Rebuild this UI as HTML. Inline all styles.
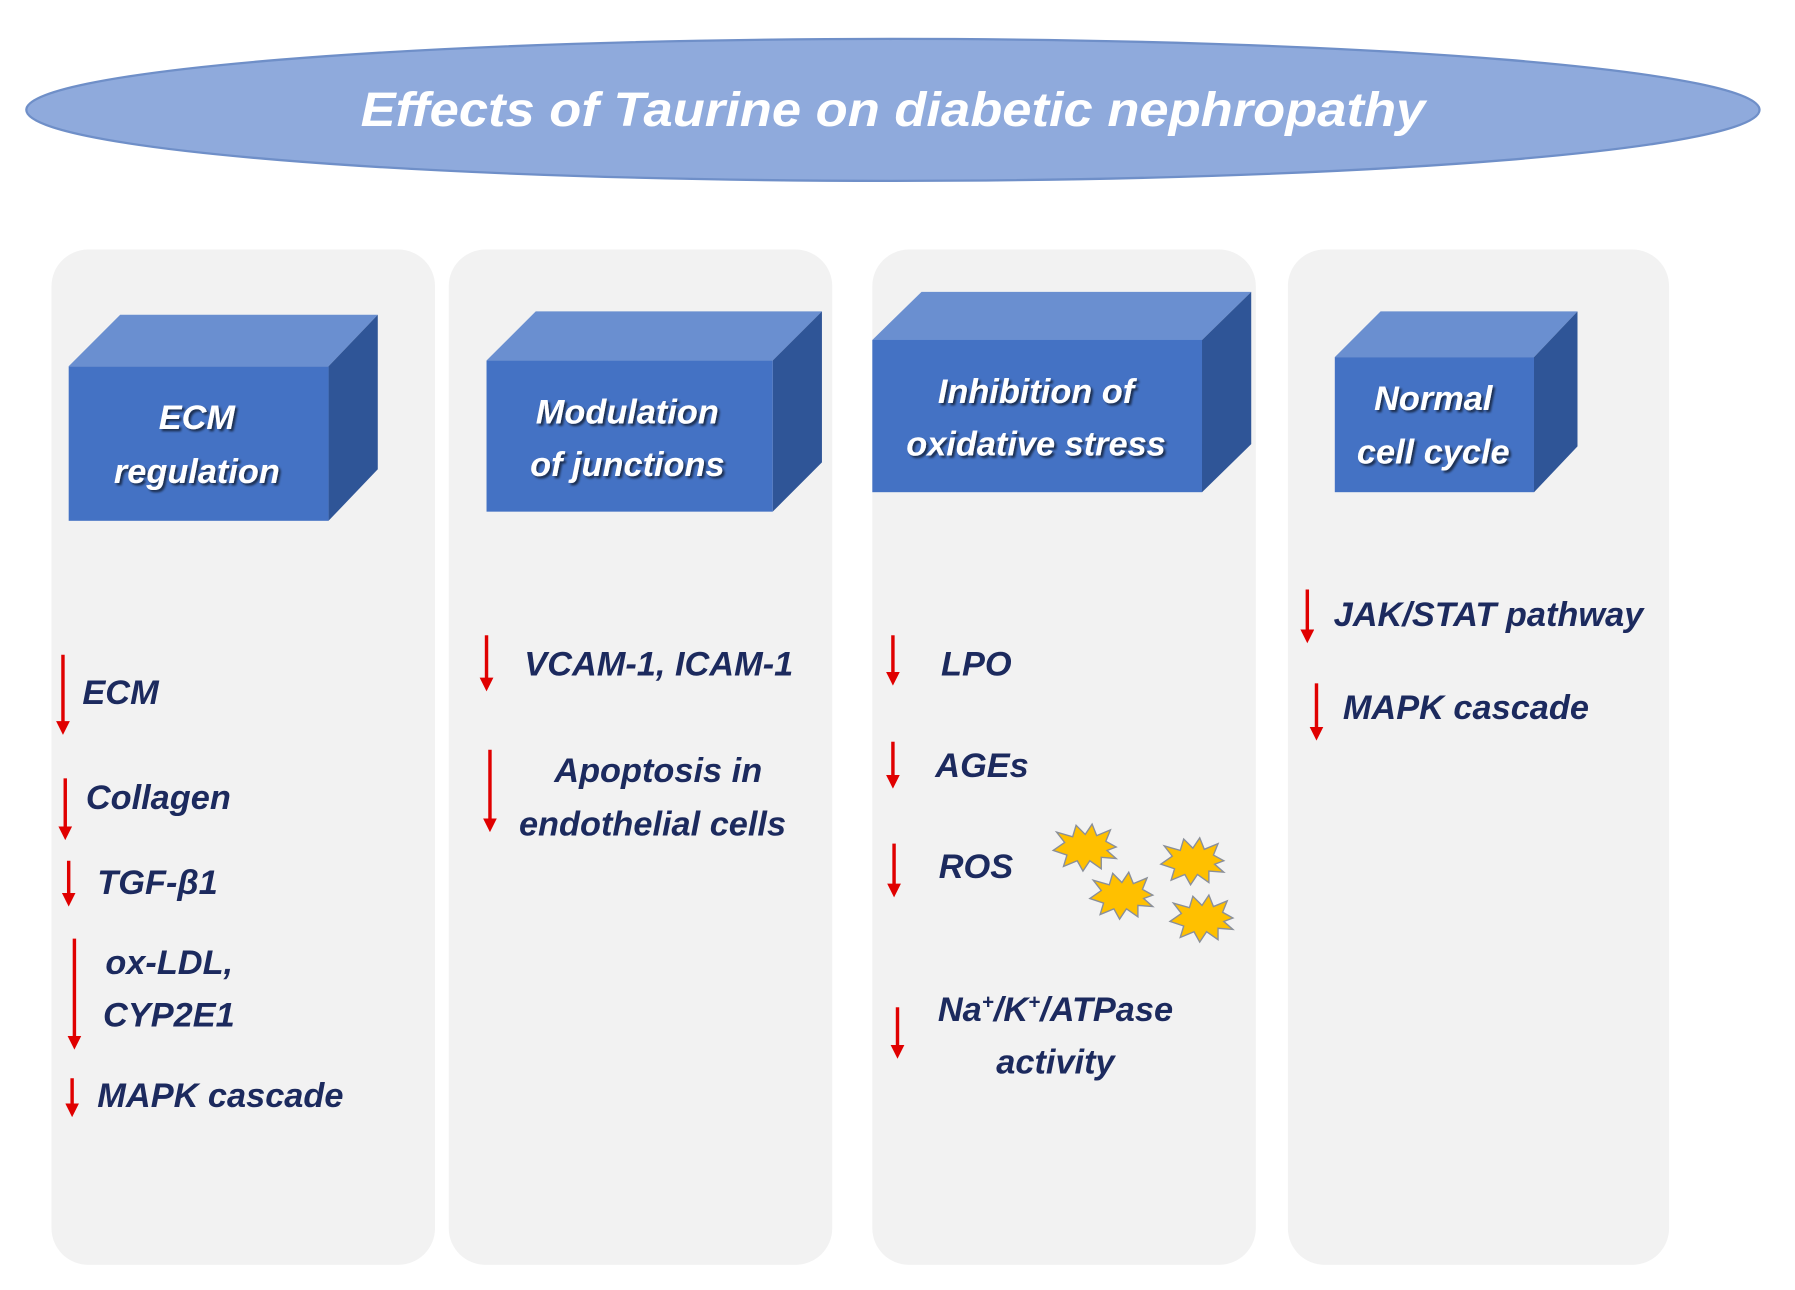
<!DOCTYPE html>
<html><head><meta charset="utf-8"><style>
html,body{margin:0;padding:0;background:#fff;}
svg{display:block;}
.t{font-family:"Liberation Sans",sans-serif;font-weight:bold;font-style:italic;fill:#1c2a5e;font-size:30px;}
.w{font-family:"Liberation Sans",sans-serif;font-weight:bold;font-style:italic;fill:#fff;font-size:30px;text-anchor:middle;}
</style></head><body>
<svg width="1795" height="1290" viewBox="0 0 1568 1127" preserveAspectRatio="none" xmlns="http://www.w3.org/2000/svg">
<defs>
<filter id="sh" x="-10%" y="-10%" width="120%" height="130%"><feDropShadow dx="2" dy="2" stdDeviation="1" flood-color="#000" flood-opacity="0.6"/></filter>
<marker id="ah" markerWidth="4" markerHeight="4" refX="2" refY="2" orient="auto"><path d="M0,0 L4,2 L0,4 z" fill="#e00000"/></marker>
<polygon id="star" points="27,0 18,-5 22,-15 10,-10 6,-20 0,-11 -8,-19 -11,-9 -25,-13 -18,-4 -28,3 -16,7 -19,17 -7,12 -2,21 4,12 14,19 14,9 27,10 19,3" fill="#ffc000" stroke="#8a8f99" stroke-width="1.2"/>
</defs>
<ellipse cx="780" cy="96" rx="757" ry="62" fill="#8faadc" stroke="#6f8fc8" stroke-width="2"/>
<text x="780" y="110" class="w" style="font-size:42px" textLength="930" lengthAdjust="spacingAndGlyphs">Effects of Taurine on diabetic nephropathy</text>

<rect x="45" y="218" width="335" height="887" rx="32" fill="#f2f2f2"/>
<rect x="392" y="218" width="335" height="887" rx="32" fill="#f2f2f2"/>
<rect x="762" y="218" width="335" height="887" rx="32" fill="#f2f2f2"/>
<rect x="1125" y="218" width="333" height="887" rx="32" fill="#f2f2f2"/>

<!-- cube 1 -->
<polygon points="60,320 105,275 330,275 287,320" fill="#6a8fd0"/>
<polygon points="287,320 330,275 330,410 287,455" fill="#2f5597"/>
<rect x="60" y="320" width="227" height="135" fill="#4472c4"/>
<g filter="url(#sh)"><text x="172" y="375" class="w">ECM</text><text x="172" y="422" class="w">regulation</text></g>
<!-- cube 2 -->
<polygon points="425,315 468,272 718,272 675,315" fill="#6a8fd0"/>
<polygon points="675,315 718,272 718,404 675,447" fill="#2f5597"/>
<rect x="425" y="315" width="250" height="132" fill="#4472c4"/>
<g filter="url(#sh)"><text x="548" y="370" class="w">Modulation</text><text x="548" y="416" class="w">of junctions</text></g>
<!-- cube 3 -->
<polygon points="762,297 805,255 1093,255 1050,297" fill="#6a8fd0"/>
<polygon points="1050,297 1093,255 1093,388 1050,430" fill="#2f5597"/>
<rect x="762" y="297" width="288" height="133" fill="#4472c4"/>
<g filter="url(#sh)"><text x="905" y="352" class="w">Inhibition of</text><text x="905" y="398" class="w">oxidative stress</text></g>
<!-- cube 4 -->
<polygon points="1166,312 1206,272 1378,272 1340,312" fill="#6a8fd0"/>
<polygon points="1340,312 1378,272 1378,390 1340,430" fill="#2f5597"/>
<rect x="1166" y="312" width="174" height="118" fill="#4472c4"/>
<g filter="url(#sh)"><text x="1252" y="358" class="w">Normal</text><text x="1252" y="405" class="w">cell cycle</text></g>

<g stroke="#e00000" stroke-width="3" marker-end="url(#ah)">
<line x1="55" y1="572" x2="55" y2="636"/>
<line x1="57" y1="680" x2="57" y2="728"/>
<line x1="60" y1="752" x2="60" y2="786"/>
<line x1="65" y1="820" x2="65" y2="911"/>
<line x1="63" y1="942" x2="63" y2="970"/>
<line x1="425" y1="555" x2="425" y2="598"/>
<line x1="428" y1="655" x2="428" y2="721"/>
<line x1="780" y1="555" x2="780" y2="593"/>
<line x1="780" y1="648" x2="780" y2="683"/>
<line x1="781" y1="737" x2="781" y2="778"/>
<line x1="784" y1="880" x2="784" y2="919"/>
<line x1="1142" y1="515" x2="1142" y2="556"/>
<line x1="1150" y1="597" x2="1150" y2="641"/>
</g>

<text x="72" y="615" class="t">ECM</text>
<text x="75" y="707" class="t">Collagen</text>
<text x="85" y="781" class="t">TGF-β1</text>
<text x="92" y="851" class="t">ox-LDL,</text>
<text x="90" y="897" class="t">CYP2E1</text>
<text x="85" y="967" class="t">MAPK cascade</text>

<text x="458" y="590" class="t">VCAM-1, ICAM-1</text>
<text x="575" y="683" class="t" text-anchor="middle">Apoptosis in</text>
<text x="570" y="730" class="t" text-anchor="middle">endothelial cells</text>

<text x="822" y="590" class="t">LPO</text>
<text x="817" y="679" class="t">AGEs</text>
<text x="820" y="767" class="t">ROS</text>
<text x="922" y="892" class="t" text-anchor="middle">Na<tspan font-size="18" dy="-11">+</tspan><tspan dy="11">/K</tspan><tspan font-size="18" dy="-11">+</tspan><tspan dy="11">/ATPase</tspan></text>
<text x="922" y="938" class="t" text-anchor="middle">activity</text>

<text x="1165" y="547" class="t">JAK/STAT pathway</text>
<text x="1173" y="628" class="t">MAPK cascade</text>

<use href="#star" transform="translate(948,740)"/>
<use href="#star" transform="translate(1042,752)"/>
<use href="#star" transform="translate(980,782)"/>
<use href="#star" transform="translate(1050,802)"/>
</svg>
</body></html>
